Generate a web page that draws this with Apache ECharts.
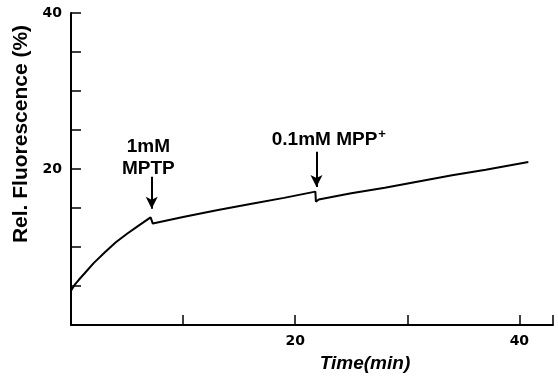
<!DOCTYPE html>
<html>
<head>
<meta charset="utf-8">
<script src="https://cdn.jsdelivr.net/npm/echarts@6/dist/echarts.min.js"></script>
<style>
  html, body { margin: 0; padding: 0; background: #fff; }
  #chart { width: 558px; height: 378px; }
</style>
</head>
<body>
<div id="chart"></div>
<script>
// Datos
var tiempo = [0, 0.3, 0.7, 1.2, 2, 3, 4, 5, 6, 7.1, 7.3, 10, 13, 16, 19, 21.8, 21.85, 22.1, 25, 28, 31, 34, 37, 40.8];
var fluorescencia = [4.4, 5.1, 5.8, 6.6, 7.9, 9.3, 10.6, 11.7, 12.7, 13.8, 13.0, 13.85, 14.7, 15.5, 16.3, 17.1, 15.8, 16.1, 16.9, 17.6, 18.4, 19.2, 19.9, 20.9];
var etiquetasX = [20, 40];
var etiquetasY = [20, 40];

// Anotaciones: [tiempo, inicio flecha, fin flecha]
var flechas = [[7.2, 19.0, 14.9], [21.9, 22.2, 17.7]];
var textos = [
  { coord: [6.9, 21.4], texto: "1mM\nMPTP" },
  { coord: [23.0, 23.8], texto: "0.1mM MPP{sup|+}" }
];

var fuente = "Liberation Sans";
var fuenteNum = "DejaVu Sans";

var datos = tiempo.map(function (t, i) { return [t, fluorescencia[i]]; });

var option = {
  animation: false,
  backgroundColor: "#fff",
  grid: { left: 71, right: 5, top: 13, bottom: 50 },
  xAxis: {
    type: "value",
    min: 0,
    max: 43,
    interval: 10,
    name: "Time(min)",
    nameLocation: "middle",
    nameGap: 29,
    nameTextStyle: {
      fontFamily: fuente, fontSize: 19, fontWeight: "bold", fontStyle: "italic",
      color: "#000", padding: [0, 0, 0, 106]
    },
    axisLine: { lineStyle: { color: "#000", width: 2 } },
    axisTick: { inside: true, length: 10, lineStyle: { color: "#000", width: 1.5 } },
    axisLabel: {
      margin: 9,
      fontFamily: fuenteNum, fontSize: 14, fontWeight: "bold", color: "#000",
      formatter: function (v) { return etiquetasX.indexOf(v) >= 0 ? String(v) : ""; }
    },
    splitLine: { show: false }
  },
  yAxis: {
    type: "value",
    min: 0,
    max: 40,
    interval: 5,
    name: "Rel. Fluorescence (%)",
    nameLocation: "middle",
    nameRotate: 90,
    nameGap: 38,
    nameTextStyle: {
      fontFamily: fuente, fontSize: 21, fontWeight: "bold", color: "#000",
      padding: [0, 0, 0, 70]
    },
    axisLine: { show: true, lineStyle: { color: "#000", width: 2 } },
    axisTick: { show: true, inside: true, length: 10, lineStyle: { color: "#000", width: 1.5 } },
    axisLabel: {
      margin: 9,
      fontFamily: fuenteNum, fontSize: 14, fontWeight: "bold", color: "#000",
      formatter: function (v) { return etiquetasY.indexOf(v) >= 0 ? String(v) : ""; }
    },
    splitLine: { show: false }
  },
  series: [
    {
      type: "line",
      data: datos,
      symbol: "none",
      smooth: false,
      lineStyle: { color: "#000", width: 2 },
      markLine: {
        silent: true,
        symbol: ["none", "arrow"],
        symbolSize: [9, 12],
        label: { show: false },
        lineStyle: { color: "#000", width: 2, type: "solid" },
        data: flechas.map(function (f) {
          return [{ coord: [f[0], f[1]] }, { coord: [f[0], f[2]] }];
        })
      },
      markPoint: {
        silent: true,
        symbol: "rect",
        symbolSize: 1,
        itemStyle: { color: "rgba(0,0,0,0)" },
        label: {
          show: true,
          position: "inside",
          fontFamily: fuente, fontSize: 19, fontWeight: "bold", color: "#000",
          lineHeight: 22,
          rich: {
            sup: { fontFamily: fuente, fontSize: 13, fontWeight: "bold", color: "#000", verticalAlign: "top", padding: [0, 0, 12, 1] }
          }
        },
        data: textos.map(function (t) {
          return { coord: t.coord, label: { formatter: t.texto } };
        })
      }
    }
  ]
};

var grafica = echarts.init(document.getElementById("chart"), null, { renderer: "canvas" });
grafica.setOption(option);
</script>
</body>
</html>
